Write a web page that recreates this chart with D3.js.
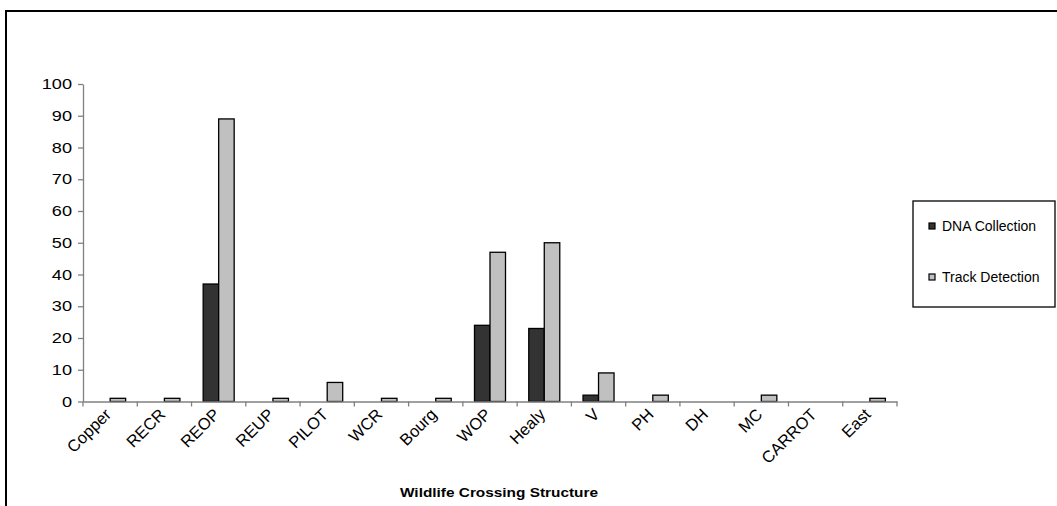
<!DOCTYPE html>
<html><head><meta charset="utf-8">
<script src="https://cdn.jsdelivr.net/npm/d3@7"></script>
<style>
html,body{margin:0;padding:0;background:#fff;}
text{font-family:"Liberation Sans",Arial,sans-serif;fill:#000;}
</style></head>
<body>
<svg id="chart" width="1057" height="506"></svg>
<script>
const categories = ["Copper","RECR","REOP","REUP","PILOT","WCR","Bourg","WOP","Healy","V","PH","DH","MC","CARROT","East"];
const dnaCollection = [0,0,37,0,0,0,0,24,23,2,0,0,0,0,0];
const trackDetection = [1,1,89,1,6,1,1,47,50,9,2,0,2,0,1];
const seriesNames = ["DNA Collection","Track Detection"];
const seriesColors = ["#333333","#c0c0c0"];
const yTicks = [0,10,20,30,40,50,60,70,80,90,100];

const svg = d3.select("#chart");
// outer chart border
svg.append("rect").attr("x",6).attr("y",11).attr("width",1060).attr("height",520)
  .attr("fill","none").attr("stroke","#000").attr("stroke-width",2);

const m = {left:83, right:897, top:84, bottom:401.5};
const x = d3.scaleBand().domain(categories).range([m.left,m.right]).paddingInner(0).paddingOuter(0);
const y = d3.scaleLinear().domain([0,100]).range([m.bottom,m.top]);
const bw = x.bandwidth()/3.5;

const data = [dnaCollection, trackDetection];
data.forEach((vals,si)=>{
  svg.append("g").selectAll("rect").data(categories).join("rect")
    .attr("x",d=>x(d)+x.bandwidth()/2 - bw + si*bw)
    .attr("y",(d,i)=>y(vals[i]))
    .attr("width",bw)
    .attr("height",(d,i)=>m.bottom - y(vals[i]))
    .attr("fill",seriesColors[si])
    .attr("stroke","#000").attr("stroke-width",1.3)
    .attr("display",(d,i)=>vals[i]>0?null:"none");
});

// y axis
const ya = svg.append("g").attr("transform",`translate(${m.left},0)`)
  .call(d3.axisLeft(y).tickValues(yTicks).tickSize(5).tickSizeOuter(0).tickPadding(6));
ya.selectAll("path,line").attr("stroke","#808080").attr("stroke-width",1.3);
ya.selectAll("text").attr("font-size",14.5).attr("font-family","Liberation Sans, Arial, sans-serif").attr("fill","#000")
  .attr("x",0).attr("transform","translate(-11,0) scale(1.25,1)");

// x axis
const xa = svg.append("g").attr("transform",`translate(0,${m.bottom})`)
  .call(d3.axisBottom(x).tickSize(0).tickSizeOuter(0));
xa.select("path").attr("stroke","#808080").attr("stroke-width",1.3);
// ticks at band edges
const edges = categories.map(c=>x(c)).concat([m.right]);
xa.selectAll("line.edge").data(edges).join("line").attr("class","edge")
  .attr("x1",d=>d).attr("x2",d=>d).attr("y1",0).attr("y2",5)
  .attr("stroke","#808080").attr("stroke-width",1.3);
xa.selectAll(".tick text")
  .attr("font-size",16.5).attr("font-family","Liberation Sans, Arial, sans-serif").attr("fill","#000")
  .attr("text-anchor","end").attr("dy",0).attr("y",0)
  .attr("transform","translate(2,14) rotate(-45)");

// x title
svg.append("text").attr("x",499).attr("y",497).attr("text-anchor","middle")
  .attr("font-size",13).attr("font-weight","bold")
  .attr("textLength",198).attr("lengthAdjust","spacingAndGlyphs")
  .text("Wildlife Crossing Structure");

// legend
const lg = svg.append("g");
lg.append("rect").attr("x",913).attr("y",201).attr("width",142).attr("height",106)
  .attr("fill","#fff").attr("stroke","#000").attr("stroke-width",1.3);
seriesNames.forEach((n,i)=>{
  const yy = 226 + i*51;
  lg.append("rect").attr("x",929).attr("y",yy-3).attr("width",6).attr("height",6)
    .attr("fill",seriesColors[i]).attr("stroke","#000").attr("stroke-width",1.2);
  lg.append("text").attr("x",942).attr("y",yy+5).attr("font-size",14).text(n);
});
</script>
</body></html>
